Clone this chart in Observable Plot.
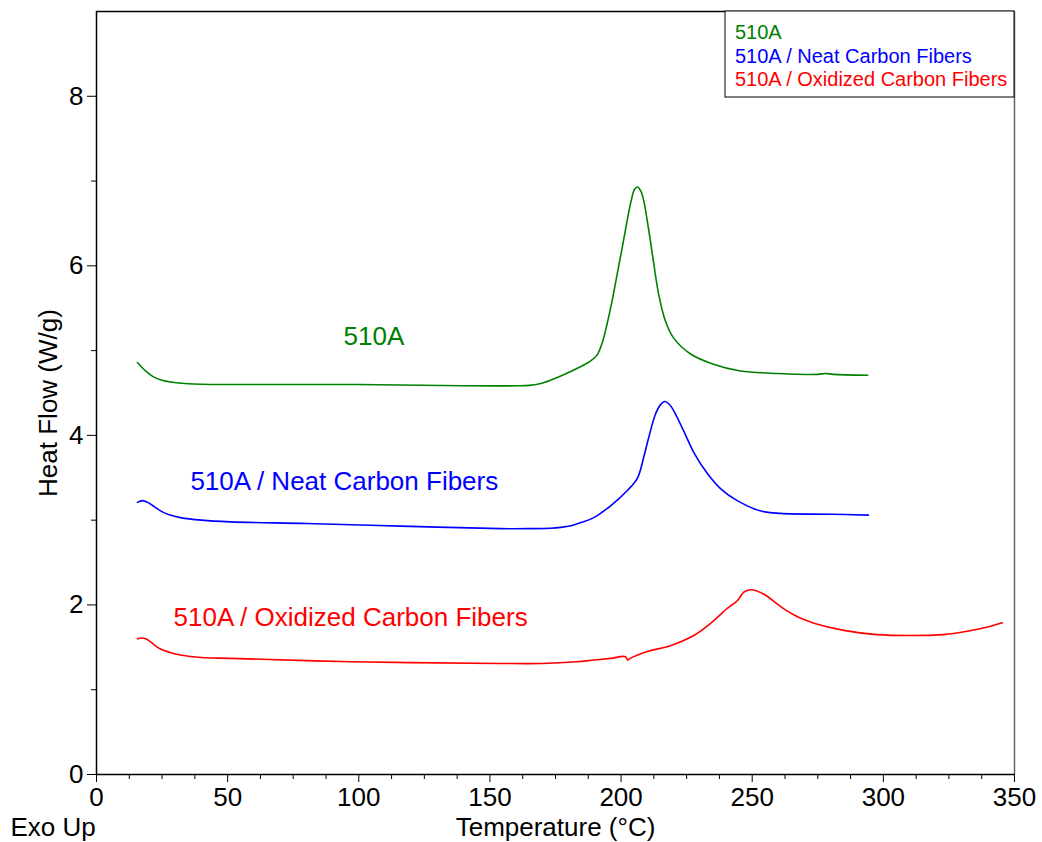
<!DOCTYPE html>
<html>
<head>
<meta charset="utf-8">
<script src="https://cdn.jsdelivr.net/npm/d3@7"></script>
<script src="https://cdn.jsdelivr.net/npm/@observablehq/plot@0.6"></script>
<style>
  html, body { margin: 0; padding: 0; background: #fff; }
  #chart { width: 1042px; height: 842px; }
</style>
</head>
<body>
<div id="chart"></div>
<script>
// Series: 510A (green)
const greenT = [15.6, 18.7, 21.7, 25, 28.2, 35, 50, 100, 140, 160, 165, 169, 173, 177, 184.5, 188.3, 190.9, 192.8, 194.7, 196.6, 198.5, 200.4, 202.3, 203.8, 205.1, 206.3, 207.4, 208.5, 210.4, 212.3, 214.3, 216.9, 220, 226.5, 235.2, 245.5, 260, 275, 278, 281, 294];
const greenY = [4.86, 4.76, 4.69, 4.65, 4.63, 4.61, 4.60, 4.60, 4.585, 4.585, 4.59, 4.61, 4.65, 4.70, 4.81, 4.875, 4.95, 5.09, 5.32, 5.59, 5.90, 6.21, 6.53, 6.76, 6.90, 6.93, 6.89, 6.79, 6.45, 6.06, 5.67, 5.35, 5.15, 4.96, 4.84, 4.76, 4.73, 4.72, 4.73, 4.72, 4.71];

// Series: 510A / Neat Carbon Fibers (blue)
const blueT = [15.6, 17.5, 19.5, 22, 24.4, 28, 32, 40, 51, 80, 116, 154, 165, 173, 177, 181, 184.5, 189.6, 196, 202.4, 206.3, 208.6, 210.5, 213.1, 215, 216.6, 218.3, 220.1, 223.9, 227.7, 232.9, 238, 244.3, 253, 260.8, 280, 294.3];
const blueY = [3.21, 3.23, 3.21, 3.16, 3.11, 3.06, 3.03, 3.00, 2.98, 2.96, 2.93, 2.90, 2.90, 2.905, 2.915, 2.935, 2.97, 3.03, 3.17, 3.35, 3.50, 3.74, 3.97, 4.25, 4.36, 4.40, 4.37, 4.29, 4.05, 3.80, 3.55, 3.37, 3.23, 3.11, 3.08, 3.07, 3.06];

// Series: 510A / Oxidized Carbon Fibers (red)
const redT = [15.6, 17.5, 19.5, 22, 24.4, 28, 32, 40, 51, 97, 154, 170, 183, 189.6, 196, 201.7, 202.5, 203.5, 210, 218.8, 227.7, 234, 240.5, 244.3, 246.8, 249.3, 254.3, 259.6, 262.5, 265.8, 269.5, 273.5, 284.9, 297.6, 310.3, 323, 332, 339.7, 345.4];
const redY = [1.60, 1.61, 1.59, 1.53, 1.48, 1.44, 1.41, 1.38, 1.37, 1.33, 1.31, 1.31, 1.33, 1.35, 1.37, 1.39, 1.35, 1.37, 1.45, 1.52, 1.64, 1.78, 1.96, 2.05, 2.15, 2.18, 2.13, 2.01, 1.945, 1.885, 1.83, 1.785, 1.70, 1.65, 1.64, 1.65, 1.69, 1.74, 1.79];

// Names, colours, in-plot label anchors (data units)
const seriesNames = ["510A", "510A / Neat Carbon Fibers", "510A / Oxidized Carbon Fibers"];
const seriesColors = ["#008000", "#0000ff", "#ff0000"];
const labelT = [94.2, 35.8, 29.4];
const labelY = [5.17, 3.45, 1.85];

// Ticks
const xMajor = [0, 50, 100, 150, 200, 250, 300, 350];
const xMinor = [12.5, 25, 37.5, 62.5, 75, 87.5, 112.5, 125, 137.5, 162.5, 175, 187.5, 212.5, 225, 237.5, 262.5, 275, 287.5, 312.5, 325, 337.5];
const yMajor = [0, 2, 4, 6, 8];
const yMinor = [1, 3, 5, 7];

const allT = [greenT, blueT, redT];
const allY = [greenY, blueY, redY];
const rows = [];
allT.forEach((ts, s) => ts.forEach((t, i) => rows.push({series: seriesNames[s], T: t, H: allY[s][i]})));
const labels = seriesNames.map((n, i) => ({series: n, T: labelT[i], H: labelY[i]}));

const font = "'Liberation Sans', Arial, Helvetica, sans-serif";
const fmt = d => String(d);

const plot = Plot.plot({
  width: 1042,
  height: 842,
  marginLeft: 96,
  marginRight: 28,
  marginTop: 11,
  marginBottom: 68,
  style: {fontFamily: font, fontSize: "26px", color: "#000", background: "#fff"},
  x: {domain: [0, 350]},
  y: {domain: [0, 9]},
  color: {domain: seriesNames, range: seriesColors},
  marks: [
    Plot.ruleY([9], {stroke: "#000", strokeWidth: 1.5}),
    Plot.ruleX([350], {stroke: "#666", strokeWidth: 1.5}),
    Plot.axisX(xMajor, {tickSize: 8, tickPadding: 5, label: null, fontSize: 26, tickFormat: fmt}),
    Plot.axisX(xMinor, {tickSize: 5, text: null, label: null}),
    Plot.axisY(yMajor, {tickSize: 9, tickPadding: 4, label: null, fontSize: 26, tickFormat: fmt}),
    Plot.axisY(yMinor, {tickSize: 5, text: null, label: null}),
    Plot.ruleX([0], {stroke: "#000", strokeWidth: 1.5}),
    Plot.ruleY([0], {stroke: "#000", strokeWidth: 1.5}),
    Plot.line(rows, {x: "T", y: "H", z: "series", stroke: "series", strokeWidth: 1.6, curve: "catmull-rom"}),
    Plot.text(labels, {x: "T", y: "H", text: "series", fill: "series", textAnchor: "start", fontSize: 26}),
    Plot.text(["Temperature (°C)"], {frameAnchor: "bottom", dy: 61, fontSize: 26, fill: "#000"}),
    Plot.text(["Exo Up"], {frameAnchor: "bottom-left", dx: -86, dy: 61, textAnchor: "start", fontSize: 26, fill: "#000"}),
    Plot.text(["Heat Flow (W/g)"], {frameAnchor: "left", dx: -48, dy: 10, rotate: -90, textAnchor: "middle", fontSize: 26, fill: "#000"})
  ]
});

document.getElementById("chart").appendChild(plot);

// Legend box in the top-right corner of the frame
const svgSel = d3.select(plot);
const xScale = plot.scale("x"), yScale = plot.scale("y");
const frameRight = xScale.apply(350), frameTop = yScale.apply(9);
const boxW = 289, boxH = 86;
const legendG = svgSel.append("g").attr("font-family", font).attr("font-size", 20).attr("text-anchor", "start");
legendG.append("rect").attr("x", frameRight - boxW).attr("y", frameTop).attr("width", boxW).attr("height", boxH)
  .attr("fill", "#fff").attr("stroke", "#000").attr("stroke-width", 1);
seriesNames.forEach((n, i) => {
  legendG.append("text").attr("x", frameRight - boxW + 10).attr("y", frameTop + 21 + i * 23.5)
    .attr("dy", "0.35em").attr("text-anchor", "start").attr("fill", seriesColors[i]).text(n);
});
</script>
</body>
</html>
